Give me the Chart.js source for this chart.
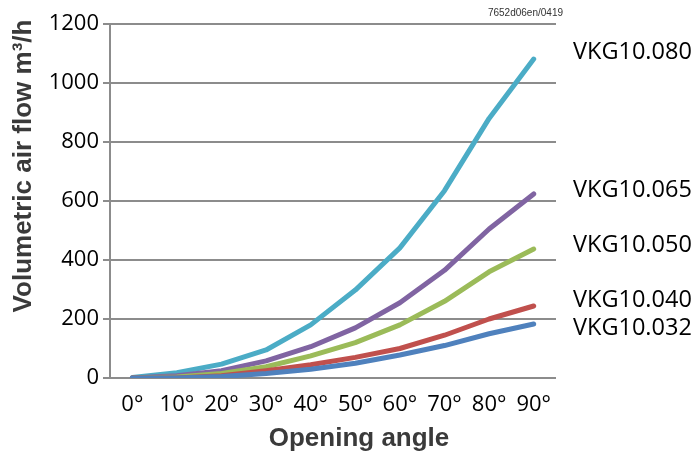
<!DOCTYPE html>
<html>
<head>
<meta charset="utf-8">
<script src="https://cdn.jsdelivr.net/npm/chart.js@4"></script>
<style>
  html, body { margin: 0; padding: 0; background: #fff; }
  #wrap { width: 697px; height: 456px; position: relative; }
</style>
</head>
<body>
<div id="wrap"><canvas id="chart1"></canvas></div>
<script>
const angles = ['0°', '10°', '20°', '30°', '40°', '50°', '60°', '70°', '80°', '90°'];
const yTicks = [0, 200, 400, 600, 800, 1000, 1200];

const vkg080 = [2, 18, 47, 95, 180, 298, 441, 635, 880, 1081];
const vkg065 = [0, 8, 25, 58, 106, 170, 255, 365, 505, 624];
const vkg050 = [0, 3, 15, 38, 75, 120, 180, 260, 360, 437];
const vkg040 = [0, 0, 8, 25, 45, 70, 100, 145, 200, 244];
const vkg032 = [0, 0, 5, 15, 30, 50, 78, 110, 150, 183];

const seriesNames = ['VKG10.032', 'VKG10.040', 'VKG10.050', 'VKG10.065', 'VKG10.080'];
const seriesData = [vkg032, vkg040, vkg050, vkg065, vkg080];
const seriesColors = ['#4F81BD', '#C0504D', '#9BBB59', '#8064A2', '#4BACC6'];

const gridGray = '#8c8c8c';
const titleGray = '#3a3a3a';

// labels next to the end of each curve (pixel nudges only)
const endLabels = {
  id: 'endLabels',
  afterDatasetsDraw(chart) {
    const ctx = chart.ctx;
    const nudge = [4, -6, -4, -4, -7];
    ctx.save();
    ctx.font = '23.5px "Open Sans"';
    ctx.fillStyle = '#000';
    ctx.textBaseline = 'middle';
    ctx.textAlign = 'left';
    chart.data.datasets.forEach((ds, i) => {
      const meta = chart.getDatasetMeta(i);
      const last = meta.data[meta.data.length - 1];
      ctx.fillText(ds.label, 573, last.y + nudge[i]);
    });
    ctx.restore();
  }
};

// axis titles and the drawing number
const extraText = {
  id: 'extraText',
  afterDraw(chart) {
    const ctx = chart.ctx;
    ctx.save();
    ctx.fillStyle = '#333';
    ctx.font = '10px "Liberation Sans"';
    ctx.textAlign = 'right';
    ctx.textBaseline = 'middle';
    ctx.fillText('7652d06en/0419', 563, 13);

    ctx.fillStyle = titleGray;
    ctx.font = 'bold 26px "Liberation Sans"';
    ctx.textAlign = 'center';
    ctx.fillText('Opening angle', 359, 439);

    ctx.translate(24, 166);
    ctx.rotate(-Math.PI / 2);
    ctx.fillText('Volumetric air flow m³/h', 0, 0);
    ctx.restore();
  }
};

const ctx = document.getElementById('chart1').getContext('2d');
const myChart = new Chart(ctx, {
  type: 'line',
  data: {
    labels: angles,
    datasets: seriesNames.map((name, i) => ({
      label: name,
      data: seriesData[i],
      borderColor: seriesColors[i],
      backgroundColor: seriesColors[i],
      borderWidth: 5,
      pointRadius: 0,
      tension: 0,
      borderCapStyle: 'round',
      borderJoinStyle: 'round'
    }))
  },
  options: {
    responsive: true,
    maintainAspectRatio: false,
    animation: false,
    layout: {
      padding: { left: 0, right: 141, top: 24, bottom: 0 }
    },
    plugins: {
      legend: { display: false },
      tooltip: { enabled: false }
    },
    scales: {
      y: {
        min: 0,
        max: 1200,
        afterBuildTicks: (axis) => { axis.ticks = yTicks.map(v => ({ value: v })); },
        afterFit: (axis) => { axis.width = 110; },
        ticks: {
          color: '#000',
          padding: 4,
          callback: (value) => String(value),
          font: { family: '"Open Sans"', size: 22 }
        },
        grid: {
          color: gridGray,
          lineWidth: 2,
          tickLength: 7
        },
        border: { color: gridGray, width: 2 }
      },
      x: {
        offset: true,
        afterFit: (axis) => { axis.height = 78; },
        ticks: {
          color: '#000',
          padding: 14,
          maxRotation: 0,
          font: { family: '"Open Sans"', size: 22 }
        },
        grid: { display: false, drawTicks: false },
        border: { display: false }
      }
    }
  },
  plugins: [endLabels, extraText]
});
</script>
</body>
</html>
